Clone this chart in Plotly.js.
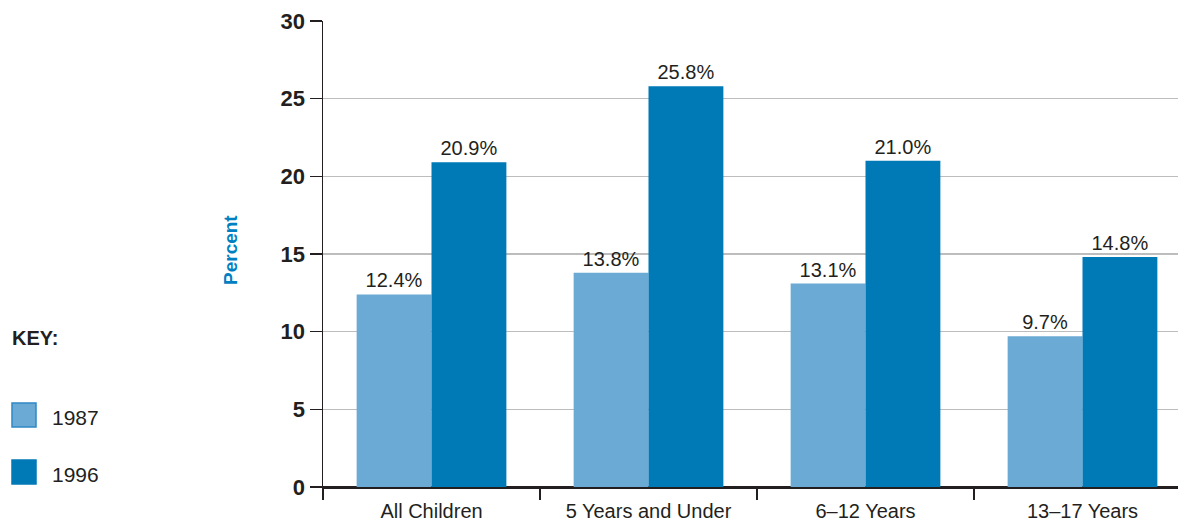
<!DOCTYPE html>
<html>
<head>
<meta charset="utf-8">
<script src="https://cdn.plot.ly/plotly-3.0.1.min.js"></script>
<style>html,body{margin:0;padding:0;background:#fff;}#chart{width:1178px;height:521px;}</style>
</head>
<body>
<div id="chart"></div>
<script>
const categories = ["All Children", "5 Years and Under", "6\u201312 Years", "13\u201317 Years"];
const seriesNames = ["1987", "1996"];
const values1987 = [12.4, 13.8, 13.1, 9.7];
const values1996 = [20.9, 25.8, 21.0, 14.8];
const yTicks = [0, 5, 10, 15, 20, 25, 30];
const colors = ["#6BAAD5", "#0079B7"];

const W = 1178, H = 521;
const L = 323, R = 0, T = 21, B = 34;
const pw = W - L - R, ph = H - T - B;
const catW = 217;
const px = x => (x - L) / pw;
const py = y => (H - B - y) / ph;
const FONT = "Liberation Sans Narrow, Arial Narrow, sans-serif";
const DARK = "#231f20";

function fmt(v){ return v.toFixed(1) + "%"; }

const traces = [values1987, values1996].map((vals, i) => ({
  type: "bar",
  name: seriesNames[i],
  x: categories,
  y: vals,
  marker: {color: colors[i], line: {width: 0}},
  text: vals.map(fmt),
  textposition: "outside",
  textfont: {family: FONT, size: 20, color: DARK},
  cliponaxis: false,
  showlegend: false,
  hoverinfo: "x+y"
}));

const shapes = [];
const annotations = [];
// KEY legend
annotations.push({xref:"paper", yref:"paper", x: px(10), y: py(338), xanchor:"left", yanchor:"middle",
  text:"<b>KEY:</b>", showarrow:false, font:{family:FONT, size:20, color:DARK}});
const legendY = [415, 472];
seriesNames.forEach((n, i) => {
  const cy = legendY[i];
  shapes.push({type:"rect", xref:"paper", yref:"paper",
    x0: px(12), x1: px(36), y0: py(cy - 12), y1: py(cy + 12),
    fillcolor: colors[i], line:{color: i === 0 ? "#2F88C4" : colors[i], width: 1.5}});
  annotations.push({xref:"paper", yref:"paper", x: px(50), y: py(cy + 2), xanchor:"left", yanchor:"middle",
    text: n, showarrow:false, font:{family:FONT, size:21, color:DARK}});
});
// Y title
annotations.push({xref:"paper", yref:"paper", x: px(230), y: py(250), xanchor:"center", yanchor:"middle",
  text:"<b>Percent</b>", textangle:-90, showarrow:false, font:{family:FONT, size:19, color:"#0080C0"}});

const layout = {
  width: W, height: H,
  margin: {l: L, r: R, t: T, b: B, pad: 0},
  paper_bgcolor: "#fff", plot_bgcolor: "#fff",
  barmode: "group",
  bargap: 0.31, bargroupgap: 0,
  xaxis: {
    type: "category",
    range: [-0.5, -0.5 + pw / catW],
    tickson: "boundaries",
    ticks: "outside", ticklen: 11, tickwidth: 1.5, tickcolor: DARK,
    ticklabelstandoff: 5,
    showline: true, linecolor: DARK, linewidth: 1.5,
    showgrid: false,
    tickfont: {family: FONT, size: 20, color: DARK},
    fixedrange: true
  },
  yaxis: {
    range: [0, 30],
    tickvals: yTicks,
    ticktext: yTicks.map(v => "<b>" + v + "</b>"),
    ticks: "outside", ticklen: 12, tickwidth: 1.5, tickcolor: DARK,
    showline: true, linecolor: DARK, linewidth: 1.5,
    showgrid: true, gridcolor: "#BDBDBD", gridwidth: 1.2,
    zeroline: true, zerolinecolor: DARK, zerolinewidth: 1.5,
    tickfont: {family: FONT, size: 22, color: DARK},
    fixedrange: true
  },
  shapes: shapes,
  annotations: annotations,
  showlegend: false
};

Plotly.newPlot("chart", traces, layout, {displayModeBar: false, staticPlot: true});
</script>
</body>
</html>
